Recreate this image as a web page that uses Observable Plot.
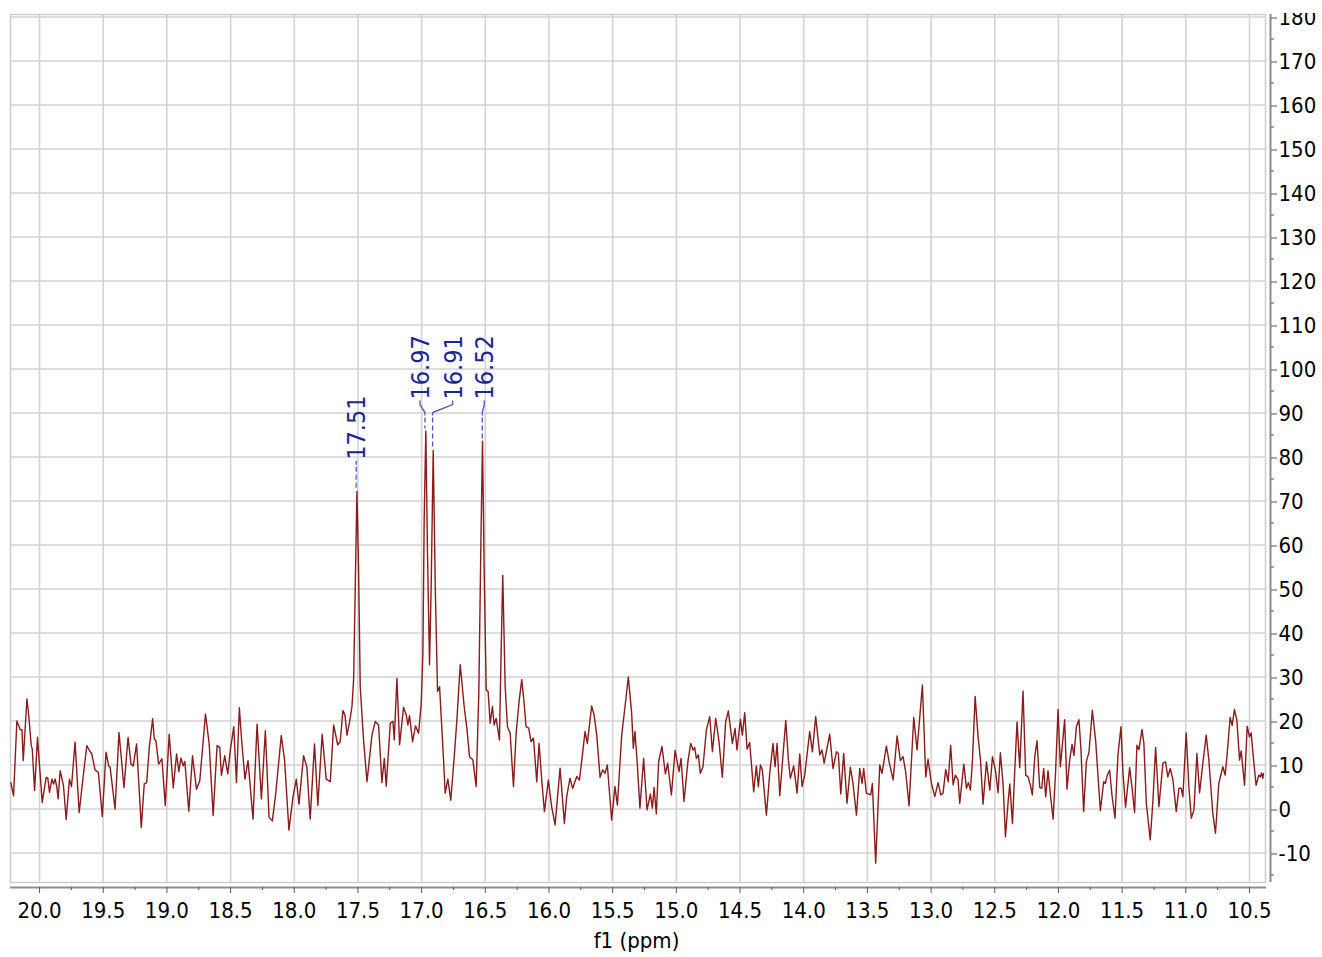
<!DOCTYPE html>
<html><head><meta charset="utf-8">
<script src="https://cdn.jsdelivr.net/npm/d3@7"></script>
<script src="https://cdn.jsdelivr.net/npm/@observablehq/plot@0.6"></script>
<style>
body{margin:0;background:#fff;}
#chart{position:absolute;left:0;top:0;}
</style></head><body><div id="chart"></div>
<script>
// chemical shift (ppm) of each trace point, descending
const shift = [
20.225,20.204,20.178,20.151,20.138,20.128,20.099,20.086,20.065,20.057,20.039,20.016,19.979,19.948,19.935,19.922,19.903,19.890,19.877,19.864,19.854,19.838,19.812,19.791,19.765,19.749,19.721,19.689,19.655,19.629,19.608,19.590,19.564,19.538,19.507,19.478,19.457,19.446,19.407,19.376,19.337,19.305,19.282,19.264,19.238,19.201,19.178,19.159,19.138,19.112,19.099,19.086,19.065,19.039,19.013,18.982,18.950,18.924,18.906,18.890,18.872,18.859,18.828,18.799,18.768,18.742,18.697,18.668,18.637,18.606,18.585,18.572,18.546,18.522,18.501,18.475,18.454,18.431,18.413,18.387,18.363,18.324,18.292,18.258,18.227,18.198,18.172,18.146,18.102,18.076,18.042,18.010,17.984,17.963,17.927,17.901,17.875,17.841,17.815,17.781,17.749,
17.717,17.691,17.659,17.639,17.618,17.602,17.586,17.565,17.547,17.534,17.521,17.508,17.495,17.482,17.456,17.429,17.390,17.364,17.338,17.312,17.293,17.278,17.246,17.225,17.215,17.194,17.173,17.142,17.121,17.108,17.095,17.071,17.048,17.024,17.003,16.990,16.980,16.967,16.954,16.938,16.925,16.909,16.893,16.875,16.859,16.828,16.815,16.794,16.771,16.744,16.724,16.697,16.666,16.645,16.624,16.598,16.572,16.551,16.535,16.522,16.509,16.493,16.478,16.462,16.444,16.431,16.415,16.405,16.389,16.376,16.363,16.344,16.326,16.305,16.279,16.258,16.235,16.214,16.195,16.180,16.159,16.141,16.122,16.096,16.078,16.054,16.036,16.005,15.979,15.952,15.913,15.879,15.861,15.835,15.814,15.782,15.761,15.735,15.717,15.699,15.665,15.646,15.625,15.599,15.578,15.560,15.542,15.508,15.482,15.463,15.429,15.403,15.377,15.351,15.338,15.325,15.307,15.286,
15.257,15.230,15.204,15.188,15.175,15.157,15.139,15.113,15.086,15.068,15.039,15.010,14.979,14.963,14.940,14.908,14.887,14.869,14.856,14.843,14.827,14.812,14.791,14.764,14.738,14.717,14.691,14.665,14.639,14.613,14.592,14.560,14.539,14.524,14.497,14.482,14.463,14.445,14.424,14.393,14.372,14.356,14.340,14.325,14.293,14.267,14.241,14.225,14.209,14.188,14.141,14.120,14.105,14.079,14.052,14.031,14.013,13.992,13.953,13.932,13.906,13.874,13.856,13.840,13.796,13.770,13.743,13.728,13.709,13.686,13.660,13.634,13.613,13.586,13.560,13.542,13.529,13.508,13.474,13.461,13.435,13.403,13.385,13.351,13.330,13.298,13.267,13.241,13.220,13.199,13.173,13.136,13.110,13.068,13.042,13.024,12.997,12.971,12.945,12.924,12.906,12.885,12.866,12.846,12.827,12.809,12.788,
12.775,12.743,12.722,12.707,12.691,12.675,12.654,12.631,12.612,12.592,12.565,12.539,12.518,12.495,12.474,12.456,12.435,12.416,12.395,12.382,12.361,12.343,12.325,12.304,12.278,12.257,12.239,12.220,12.205,12.186,12.168,12.147,12.131,12.116,12.100,12.082,12.063,12.042,12.022,12.003,11.985,11.951,11.933,11.912,11.893,11.878,11.859,11.839,11.823,11.802,11.781,11.760,11.734,11.708,11.671,11.645,11.632,11.616,11.598,11.580,11.556,11.533,11.509,11.493,11.473,11.441,11.420,11.402,11.384,11.368,11.344,11.329,11.310,11.279,11.258,11.237,11.211,11.180,11.159,11.141,11.122,11.101,11.075,11.054,11.036,11.023,10.997,10.976,10.957,10.936,10.913,10.892,10.866,10.840,10.819,10.788,10.767,10.741,10.709,10.691,10.675,10.652,10.636,10.618,10.599,10.578,10.565,10.539,10.518,10.500,10.487,10.469,10.448,10.427,10.414,10.406,10.395,10.390
];
// intensity at each point
const intensity = [
6,3,20,18,18,11,25,21.6,14.4,13.6,4.2,16.3,1.5,7.2,7,3.8,6.8,5.7,6.8,4.9,2.3,8.7,5.3,-2.4,6.8,5.1,15.2,-0.8,8,14.4,13.3,12.5,8.9,8.3,-1.7,12.9,9.8,9.5,0,17.4,4.9,16.3,10.2,9.8,14.8,-4.2,5.7,6,14,20.5,15.9,15.5,10.2,11.4,0.8,17,4.8,12.5,8.5,11.6,9.8,10.8,-0.5,12.1,4.5,6.4,21.6,14.8,-1.5,14.4,14,7.6,12.1,8,13.6,18.7,6,23,15.5,6.8,11,-2.3,19.3,2.3,17.8,-1.9,-2.7,3.4,16.7,11.1,-4.8,2.7,6.8,1.1,12.1,9.5,-2.3,14.8,0.8,17,6.8,
6.2,19.1,14.6,15.3,22.4,21.4,16.8,19.9,23.3,29.4,50.6,72.2,54.4,27.8,15.7,6.2,16.8,19.9,19.1,6,11.5,5.2,19.5,19.9,15.7,29.7,14.6,23.1,21.4,19.1,21.2,15.3,18.9,17.2,24,35.4,65.8,85.9,58.2,32.8,50.6,81.5,50.6,26.7,27.8,11.2,3.6,6.8,2,11.9,19.9,32.8,23.3,18.4,11.9,11.2,5.1,26.3,59.7,83.6,54.4,27.1,26.7,19.5,23.3,19.1,20.6,18.7,15.7,35.4,53.1,27.8,18.7,17.2,5.1,17.2,24.4,29.4,24,18.7,18.4,15.3,16.1,6.2,14.9,5.5,-0.6,6.6,0.5,-3.6,9.3,-3.3,2.8,7,4.7,7.4,6.6,13,17.6,14.9,23.4,21.4,16.8,7.2,8.9,8.1,10,-2.5,5.1,0.9,16.8,23.3,30,21.8,13.8,17.6,10.4,0.2,
11.5,-0.2,3.4,0.2,4.9,-1.1,10.8,14.2,8,10.4,3.2,13.3,8.5,11.5,1.7,11.1,14.9,13.4,14,11.5,12.3,8.1,9.6,18,21,13,20.6,15.3,7.2,19.8,22.3,14.9,18.3,13.4,20.4,16.8,21.9,13.6,15.1,3.9,9.8,5.1,10,8.9,-1.4,8.1,14.9,9.6,14.9,3,20.1,11.1,7,9.8,3.6,12.5,5.1,7.7,17.6,13,21,12.3,13.4,10.4,17,9.2,13,12.6,3.4,12.6,1.3,9.5,5.8,-1.4,9.2,5.8,9.2,3.6,3.2,5.8,-12.3,10,8.1,14.3,10.8,6.6,16.6,11,11.9,8.3,0.7,20.8,13.4,28.2,7.3,11.3,5.8,2.8,6,3.2,3.6,9,6.2,14.5,5.5,7.7,6.6,
1.3,10.2,4.7,6,4.3,11.1,25.6,16.4,11.1,1.1,10.7,4.3,11.9,8.8,3.7,12.8,5.8,-6.3,1.7,5.7,-3.3,8.8,19.8,9.4,26.8,7.7,7.3,5.4,3.2,11.9,15.5,4.9,4.7,9.2,2.8,8.7,3.2,-2.3,8.8,22.6,9.6,20.3,4.5,11.1,14.7,12.2,18.7,20.3,13.4,-0.6,10.7,13,22.4,15.6,-0.4,6.2,5.8,7.7,8.8,3.2,-2.1,12.2,18.7,8.1,0.4,9.4,4.3,-0.8,14.5,13.5,18.1,14.9,1.3,-7,2,14,0.5,10.4,10.7,7.3,9.2,6.6,-0.6,4.7,4.7,2.8,17.3,5.1,-2.1,-0.2,12.6,3.7,10.4,16.8,11.1,-1,-5.5,5.8,9.6,7.7,12.6,20.8,19,22.6,20.2,11.1,13.2,5.4,18.8,16.4,17.3,11.5,5.4,7.7,7.3,8.2,7,8.1
];
// picked peaks
const peakShifts = [17.51, 16.97, 16.91, 16.52];
const peakHeights = [72.2, 85.9, 81.5, 83.6];
const peakGroup = [0, 1, 1, 1];
// ticks
const xTicks = [20.0,19.5,19.0,18.5,18.0,17.5,17.0,16.5,16.0,15.5,15.0,14.5,14.0,13.5,13.0,12.5,12.0,11.5,11.0,10.5];
const xMinor = [19.75,19.25,18.75,18.25,17.75,17.25,16.75,16.25,15.75,15.25,14.75,14.25,13.75,13.25,12.75,12.25,11.75,11.25,10.75];
const yTicks = [-10,0,10,20,30,40,50,60,70,80,90,100,110,120,130,140,150,160,170,180];
const yMinor = [-15,-5,5,15,25,35,45,55,65,75,85,95,105,115,125,135,145,155,165,175];
const xLabel = "f1 (ppm)";

const data = shift.map((s, i) => ({ppm: s, v: intensity[i]}));
const FONT = '"DejaVu Sans Condensed", "DejaVu Sans", Verdana, sans-serif';
const GRID = "#d3d3d3";

function peakAnnotations(index, scales) {
  const x = scales.x, y = scales.y;
  const nudge = [0, -5, 20, 2];
  const g = d3.create("svg:g");
  const groupTop = {};
  peakShifts.forEach((p, i) => {
    const t = y(peakHeights[i]);
    groupTop[peakGroup[i]] = Math.min(groupTop[peakGroup[i]] ?? Infinity, t);
  });
  peakShifts.forEach((p, i) => {
    const px = x(p), top = y(peakHeights[i]);
    const lx = px + nudge[i];
    const base = groupTop[peakGroup[i]] - 31;
    const solidEnd = nudge[i] === 0 ? base + 5 : base + 16;
    g.append("path")
      .attr("d", nudge[i] === 0
        ? `M${lx},${base + 1}L${px},${solidEnd}`
        : `M${lx},${base + 1}L${lx},${base + 5}L${px},${base + 13}L${px},${solidEnd}`)
      .attr("fill", "none").attr("stroke", "#4a58c0").attr("stroke-width", 1.3);
    g.append("path")
      .attr("d", `M${px},${solidEnd + 2}L${px},${top - 2}`)
      .attr("fill", "none").attr("stroke", "#4a58c0").attr("stroke-width", 1.3)
      .attr("stroke-dasharray", "5,3");
    g.append("text")
      .attr("transform", `translate(${lx},${base}) rotate(-90)`)
      .attr("text-anchor", "start")
      .attr("dy", "0.36em")
      .attr("fill", "#1e2494")
      .attr("font-size", 25)
      .attr("font-family", FONT)
      .text(p.toFixed(2));
  });
  return g.node();
}

const chart = Plot.plot({
  width: 1322,
  height: 957,
  marginTop: 14,
  marginBottom: 70,
  marginLeft: 10,
  marginRight: 52,
  x: {domain: [20.228, 10.335]},
  y: {domain: [-17.84, 180.57]},
  style: {fontFamily: FONT, fontSize: "22px", color: "#000", background: "#fff", overflow: "visible", clipPath: "inset(13px 0 0 0)"},
  marks: [
    Plot.ruleX(xTicks, {stroke: GRID, strokeWidth: 1.6, insetBottom: 5}),
    Plot.ruleY(yTicks, {stroke: GRID, strokeWidth: 1.6, insetRight: 5}),
    Plot.frame({stroke: "#cdcdcd", strokeWidth: 1.5, insetRight: 5, insetBottom: 5}),
    Plot.line(data, {x: "ppm", y: "v", stroke: "#8b1a1a", strokeWidth: 1.4}),
    Plot.ruleY([-17.84], {stroke: "#8c8c8c", strokeWidth: 2, insetRight: 4}),
    Plot.ruleX([10.335], {stroke: "#8c8c8c", strokeWidth: 2, insetBottom: 5}),
    Plot.axisX(xTicks, {anchor: "bottom", tickSize: 6, tickPadding: 9, tickFormat: d => d.toFixed(1), stroke: "#555", label: null, fill: "#000"}),
    Plot.axisX(xMinor, {anchor: "bottom", tickSize: 3, tickFormat: () => "", stroke: "#555", label: null}),
    Plot.axisY(yTicks, {anchor: "right", tickSize: 6, tickPadding: 2, dy: 1, tickFormat: d => String(d), stroke: "#555", label: null, fill: "#000"}),
    Plot.axisY(yMinor, {anchor: "right", tickSize: 3, tickFormat: () => "", stroke: "#555", label: null}),
    Plot.text([xLabel], {frameAnchor: "bottom", dy: 53, dx: -4, lineAnchor: "middle", fill: "#000", fontSize: 22}),
    peakAnnotations
  ]
});
document.getElementById("chart").appendChild(chart);
</script>
</body></html>
